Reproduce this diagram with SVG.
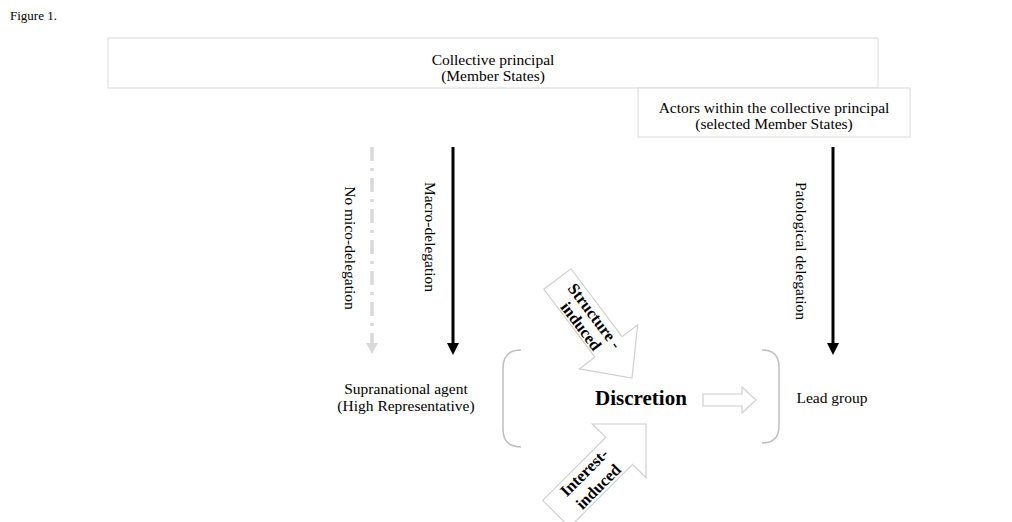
<svg xmlns="http://www.w3.org/2000/svg" width="1012" height="522" viewBox="0 0 1012 522">
<style>
text{font-family:"Liberation Serif","Times New Roman",serif;fill:#000}
.t{font-size:15.5px}
.box{fill:#fff;stroke:#d9d9d9;stroke-width:1}
.blk{fill:#fff;stroke:#d0d0d0;stroke-width:1.2}
.br{fill:none;stroke:#bfbfbf;stroke-width:1.5}
.bt{font-size:16.5px;font-weight:bold}
.blackline{stroke:#000;stroke-width:3}
</style>
<rect width="1012" height="522" fill="#fff"/>
<text x="10" y="20" style="font-size:13px">Figure 1.</text>

<g id="collective-principal">
<rect class="box" x="108" y="38" width="770" height="50"/>
<text class="t" x="493" y="65" text-anchor="middle">Collective principal</text>
<text class="t" x="493" y="81" text-anchor="middle">(Member States)</text>
</g>

<g id="actors-within">
<rect class="box" x="638" y="88" width="272" height="49"/>
<text class="t" x="774" y="113" text-anchor="middle">Actors within the collective principal</text>
<text class="t" x="774" y="129" text-anchor="middle">(selected Member States)</text>
</g>

<g id="supranational-agent">
<text class="t" x="406" y="394" text-anchor="middle">Supranational agent</text>
<text class="t" x="406" y="411" text-anchor="middle">(High Representative)</text>
</g>

<g id="discretion">
<path class="br" d="M521,350 Q503,350 503,368 L503,429 Q503,447 521,447"/>
<text x="641" y="405" text-anchor="middle" style="font-size:21px;font-weight:bold">Discretion</text>
<path class="br" d="M762,350 Q779,350 779,367 L779,426 Q779,443 762,443"/>
</g>

<g id="lead-group">
<text class="t" x="832" y="403" text-anchor="middle">Lead group</text>
</g>

<g id="structure-induced" transform="translate(632,378) rotate(53)">
<polygon class="blk" points="-124,-17 -39,-17 -39,-36.5 0,0 -39,36.5 -39,17 -124,17"/>
<text class="bt" x="-72" y="-2" text-anchor="middle">Structure -</text>
<text class="bt" x="-72" y="15" text-anchor="middle">induced</text>
</g>

<g id="interest-induced" transform="translate(646,424) rotate(-45)">
<polygon class="blk" points="-127,-19 -38,-19 -38,-38 0,0 -38,38 -38,19 -127,19"/>
<text class="bt" x="-78" y="-4" text-anchor="middle">Interest-</text>
<text class="bt" x="-78" y="16" text-anchor="middle">induced</text>
</g>

<g id="connectors">
<line class="blackline" x1="453" y1="147" x2="453" y2="345"/>
<polygon points="447,343 459,343 453,355" fill="#000"/>
<line class="blackline" x1="833" y1="147" x2="833" y2="345"/>
<polygon points="827,343 839,343 833,355" fill="#000"/>
<line x1="372" y1="147" x2="372" y2="343" stroke="#d9d9d9" stroke-width="3.5" stroke-dasharray="14,7,3,7"/>
<polygon points="366,343 378,343 372,354" fill="#d9d9d9"/>
<polygon class="blk" stroke="#bfbfbf" points="703,394 742,394 742,387 756,400 742,413 742,406 703,406"/>
<text class="t" transform="translate(430,237) rotate(90)" text-anchor="middle" dy="5">Macro-delegation</text>
<text class="t" transform="translate(350,248) rotate(90)" text-anchor="middle" dy="5">No mico-delegation</text>
<text class="t" transform="translate(801,251) rotate(90)" text-anchor="middle" dy="5">Patological delegation</text>
</g>
</svg>
